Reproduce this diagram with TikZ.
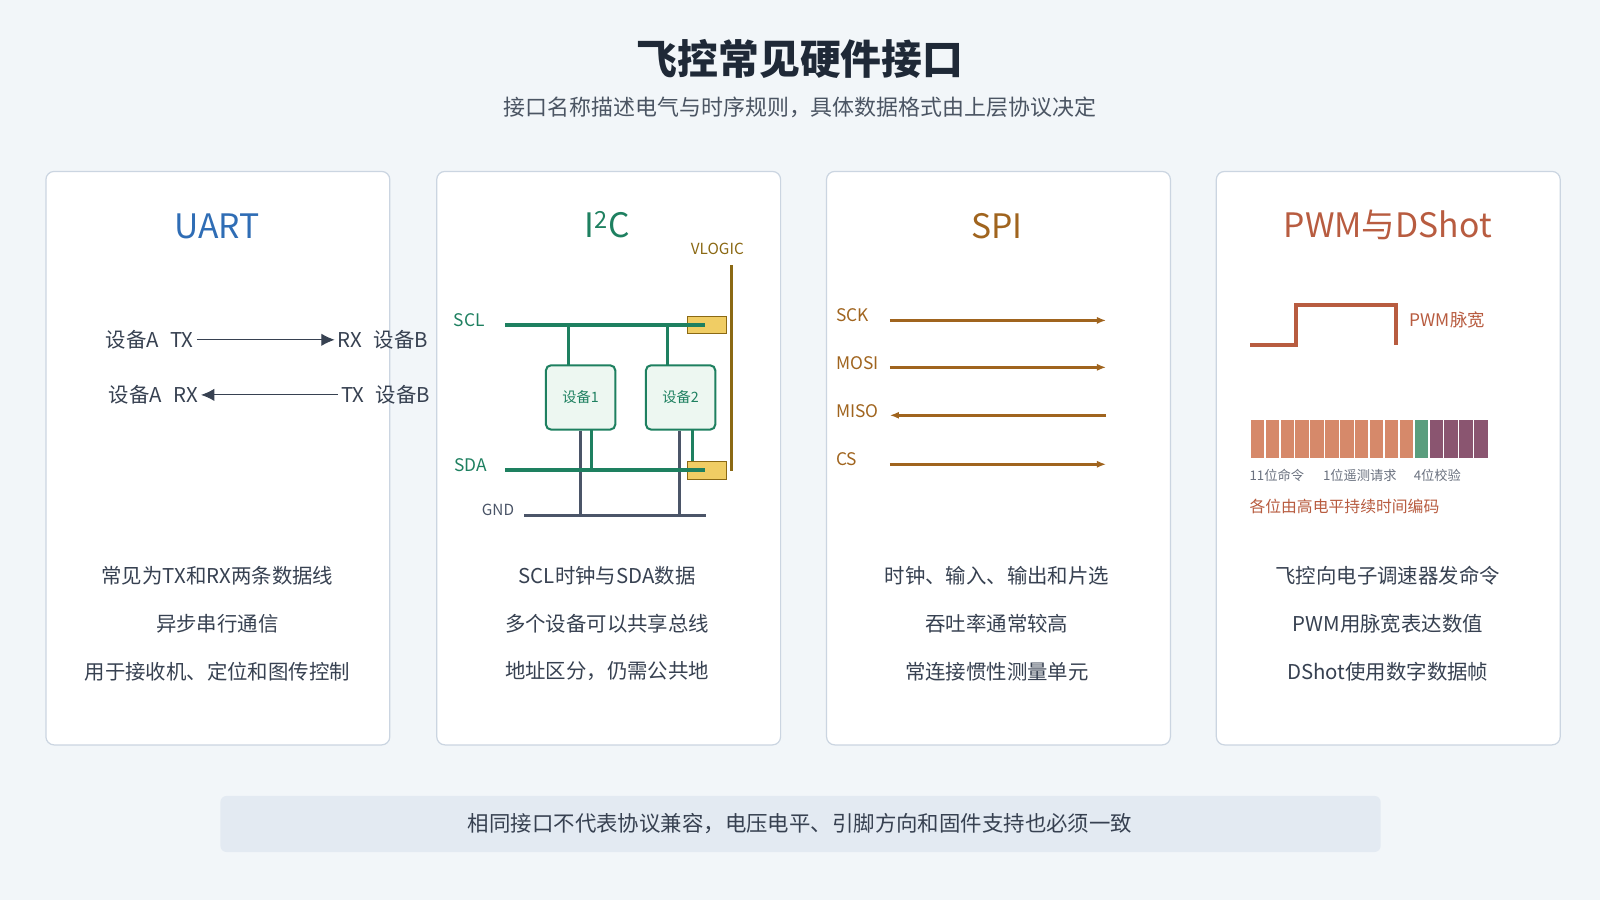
\documentclass[tikz,border=0pt]{standalone}
\usepackage{fontspec}
\setmainfont{Noto Sans CJK SC}
\usetikzlibrary{arrows.meta}
\definecolor{bg}{HTML}{F2F6F9}
\definecolor{cardb}{HTML}{CBD5E1}
\definecolor{ink}{HTML}{374151}
\definecolor{dark}{HTML}{1F2937}
\definecolor{sub}{HTML}{4B5563}
\definecolor{ublue}{HTML}{2F6DB5}
\definecolor{igreen}{HTML}{1E8060}
\definecolor{sbrown}{HTML}{A0641E}
\definecolor{prust}{HTML}{B85C40}
\definecolor{vlog}{HTML}{8B6914}
\definecolor{ybox}{HTML}{F0CD64}
\definecolor{gnd}{HTML}{4B5568}
\definecolor{dfill}{HTML}{EDF7F1}
\definecolor{salmon}{HTML}{D6896A}
\definecolor{bgreen}{HTML}{5A9E7E}
\definecolor{bpurp}{HTML}{8A5570}
\definecolor{band}{HTML}{E3EAF2}
\definecolor{lab}{HTML}{6B7280}
\begin{document}
\begin{tikzpicture}[x=1pt,y=-1pt,
  card/.style={draw=cardb,line width=1.2pt,fill=white,rounded corners=8pt},
  ctitle/.style={font=\fontsize{33}{36}\selectfont},
  body/.style={text=ink,font=\fontsize{20}{22}\selectfont},
  lbl/.style={font=\fontsize{20}{22}\selectfont},
  spi/.style={sbrown,line width=2.8pt,-{Latex[length=9pt,width=7pt]}},
  bus/.style={igreen,line width=4pt},
  gw/.style={gnd,line width=3pt},
  dev/.style={draw=igreen,line width=2pt,fill=dfill,rounded corners=5pt,minimum width=68pt,minimum height=63pt,text=igreen,font=\fontsize{14}{16}\selectfont},
  yb/.style={draw=vlog,line width=1pt,fill=ybox,minimum width=38pt,minimum height=17pt,inner sep=0pt},
  bit/.style={draw=white,line width=1.5pt,minimum width=14.6pt,minimum height=39pt,inner sep=0pt}]
\fill[bg] (0,0) rectangle (1568,882);
\useasboundingbox (0,0) rectangle (1568,882);
\node[text=dark,font=\fontsize{40}{44}\selectfont\bfseries] (title) at (784,58) {飞控常见硬件接口};
\node[text=sub,font=\fontsize{21.5}{24}\selectfont] (subt) at (784,105) {接口名称描述电气与时序规则，具体数据格式由上层协议决定};
\foreach \x/\n in {45/c1,428/c2,810/c3,1192/c4}{\draw[card] (\x,168) rectangle ++(337,562);}
% titles
\node[ctitle,text=ublue] (t1) at (213,222) {UART};
\node[ctitle,text=igreen] (t2) at (595,220) {I\textsuperscript{2}C};
\node[ctitle,text=sbrown] (t3) at (977,222) {SPI};
\node[ctitle,text=prust] (t4) at (1360,220) {PWM与DShot};
% UART
\node[lbl,text=ink,anchor=east,inner sep=3pt] (a1) at (193,333) {设备A\;\;TX};
\node[lbl,text=ink,anchor=west,inner sep=3pt] (b1) at (328,333) {RX\;\;设备B};
\node[lbl,text=ink,anchor=east,inner sep=3pt] (a2) at (197,387) {设备A\;\;RX};
\node[lbl,text=ink,anchor=west,inner sep=3pt] (b2) at (331,387) {TX\;\;设备B};
\draw[ink,line width=1pt,-{Latex[length=13pt,width=12pt]}] (a1.east) -- (b1.west);
\draw[ink,line width=1pt,-{Latex[length=13pt,width=12pt]}] (b2.west) -- (a2.east);
% I2C
\node[text=igreen,font=\fontsize{17}{18}\selectfont] (scl) at (460,314) {SCL};
\node[text=igreen,font=\fontsize{17}{18}\selectfont] (sda) at (461,456) {SDA};
\node[text=gnd,font=\fontsize{15}{16}\selectfont] (gl) at (488,500) {GND};
\node[text=vlog,font=\fontsize{15}{16}\selectfont] (vl) at (703,244) {VLOGIC};
\coordinate (vt) at (717,260); \coordinate (vb) at (717,462);
\draw[vlog,line width=3pt] (vt) -- (vb);
\node[yb] (y1) at (693,318.5) {};
\node[yb] (y2) at (693,461) {};
\node[dev] (d1) at (569,389.5) {设备1};
\node[dev] (d2) at (667,389.5) {设备2};
\coordinate (g0) at (514,505); \coordinate (g1) at (692,505);
\draw[gw] (g0) -- (g1);
\draw[gw] (d1.south) -- (d1.south|-g0);
\draw[gw] ([xshift=-1pt]d2.south) -- ([xshift=-1pt]d2.south|-g0);
\coordinate (s0) at (495,318.5); \coordinate (s1) at (691,318.5);
\coordinate (a0) at (495,461); \coordinate (a1e) at (691,461);
\draw[bus] (s0) -- (s1);
\draw[bus] (a0) -- (a1e);
\draw[igreen,line width=3pt] (557,318.5) -- (557,358);
\draw[igreen,line width=3pt] (654,318.5) -- (654,358);
\draw[igreen,line width=3pt] (580,421) -- (580,461);
\draw[igreen,line width=3pt] (679,421) -- (y2.north-|679,0);
% SPI
\foreach \yy/\t/\n in {309/SCK/k,356/MOSI/m,403/MISO/i,450/CS/c}{
  \node[text=sbrown,font=\fontsize{17}{18}\selectfont,anchor=west] (l\n) at (816,\yy) {\t};}
\coordinate (k0) at (872,314); \coordinate (k1) at (1084,314);
\coordinate (m0) at (872,360); \coordinate (m1) at (1084,360);
\coordinate (i0) at (872,407); \coordinate (i1) at (1084,407);
\coordinate (c0) at (872,455); \coordinate (c1) at (1084,455);
\draw[spi] (k0) -- (k1);
\draw[spi] (m0) -- (m1);
\draw[spi] (i1) -- (i0);
\draw[spi] (c0) -- (c1);
% PWM
\draw[prust,line width=4pt] (1225,338) -- (1270,338) -- (1270,299) -- (1368,299) -- (1368,338);
\node[text=prust,font=\fontsize{17}{18}\selectfont,anchor=west] (pw) at (1378,314) {PWM脉宽};
\foreach \i in {0,...,15}{
  \pgfmathsetmacro{\xx}{1225+14.6*\i+7.3}
  \ifnum\i<11 \def\cc{salmon}\else\ifnum\i=11 \def\cc{bgreen}\else\def\cc{bpurp}\fi\fi
  \node[bit,fill=\cc] (bit\i) at (\xx,430.5) {};}
\node[text=lab,font=\fontsize{13}{14}\selectfont,anchor=west] (f1) at (1221,466) {11位命令};
\node[text=lab,font=\fontsize{13}{14}\selectfont,anchor=west] (f2) at (1293,466) {1位遥测请求};
\node[text=lab,font=\fontsize{13}{14}\selectfont,anchor=west] (f3) at (1382,466) {4位校验};
\node[text=prust,font=\fontsize{15.5}{16}\selectfont,anchor=west] (f4) at (1221,496) {各位由高电平持续时间编码};
% bodies
\node[body] at (213,564) {常见为TX和RX两条数据线};
\node[body] at (213,611) {异步串行通信};
\node[body] at (213,658) {用于接收机、定位和图传控制};
\node[body] at (595,564) {SCL时钟与SDA数据};
\node[body] at (595,611) {多个设备可以共享总线};
\node[body] at (595,658) {地址区分，仍需公共地};
\node[body] at (977,564) {时钟、输入、输出和片选};
\node[body] at (977,611) {吞吐率通常较高};
\node[body] at (977,658) {常连接惯性测量单元};
\node[body] at (1360,564) {飞控向电子调速器发命令};
\node[body] at (1360,611) {PWM用脉宽表达数值};
\node[body] at (1360,658) {DShot使用数字数据帧};
% banner
\fill[band,rounded corners=6pt] (216,780) rectangle (1353,835);
\node[body,font=\fontsize{21}{24}\selectfont] (bn) at (784,807) {相同接口不代表协议兼容，电压电平、引脚方向和固件支持也必须一致};
\end{tikzpicture}
\end{document}
